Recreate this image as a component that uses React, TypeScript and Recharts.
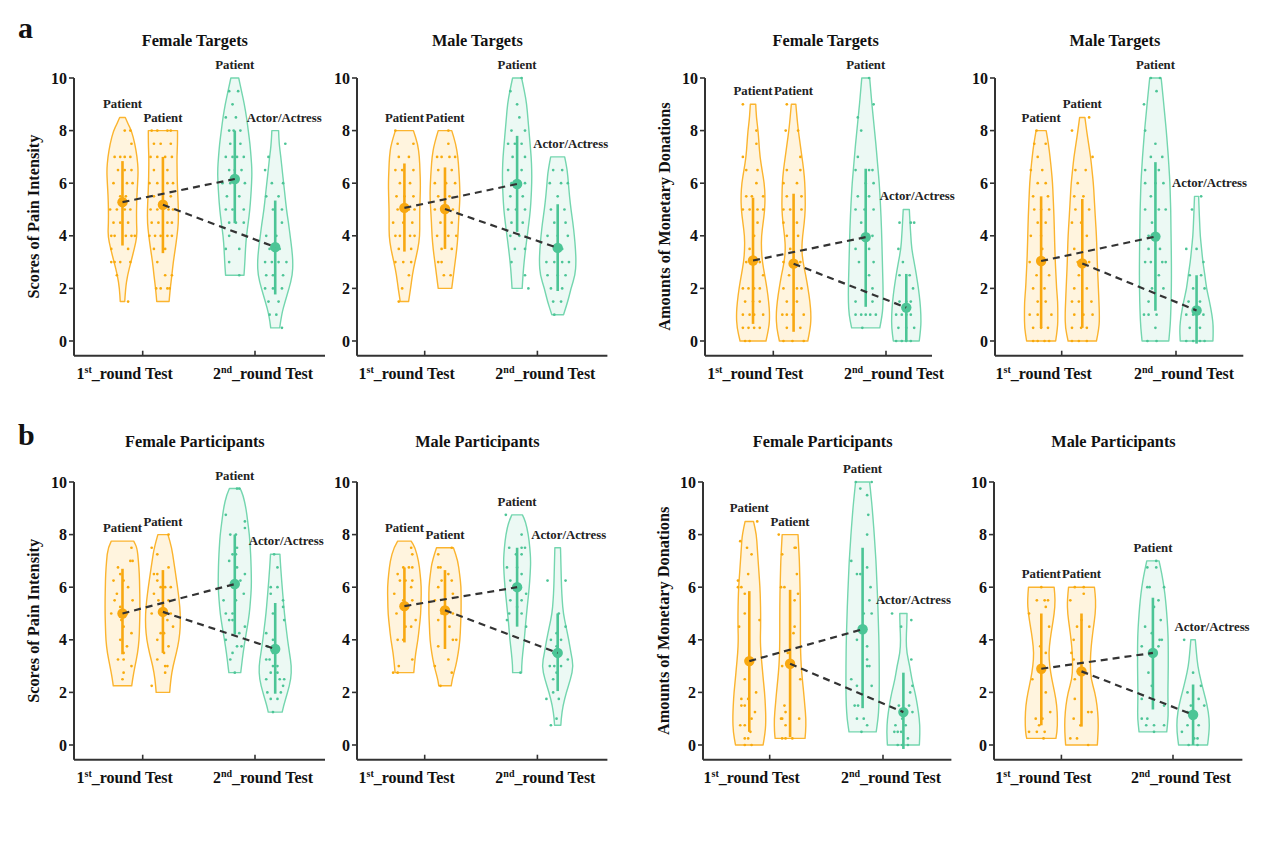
import React from "react";
import { ComposedChart, Scatter, XAxis, YAxis } from "recharts";

const FONT = '"Liberation Serif", "Times New Roman", serif';

// shared axes
const VALUE_TICKS = [0, 2, 4, 6, 8, 10];
const GROUP_TICKS = [1, 2];
const GROUP_LABELS = [
  ["1", "st", "_round Test"],
  ["2", "nd", "_round Test"],
];
const VIOLIN_X = [0.82, 1.18, 1.82, 2.18];
const VIOLIN_LABELS = ["Patient", "Patient", "Patient", "Actor/Actress"];
const Y_MIN = -0.56;
const Y_MAX = 10;

// violin outlines: "value:halfWidth" (half width in 1/100 of a group step), top to bottom
// dots: "value:offset,offset|..." (offsets in 1/100 of a group step)

// a - pain, female targets
const A1_SHAPES = [
  "8.5:2.5 8.25:5 8:8 7.5:11 7:13 6.5:14 6:13.5 5.5:12.8 5:12.5 4.5:12.5 4:13 3.5:10.5 3:7.5 2.5:4.5 2:2.7 1.5:2",
  "8:13 7.5:13 7:12.5 6.5:12.6 6:12.8 5.5:13.3 5:13.8 4.5:13.8 4:12.6 3.5:11 3:9.2 2.5:8 2:6.5 1.5:5.5",
  "10:3.5 9.5:6 9:8.5 8.5:10.5 8:12 7.5:13.5 7:14.5 6.5:15.3 6:15 5.5:14.3 5:13.4 4.5:12 4:10.4 3.5:9.5 3:9 2.5:8.2",
  "8:3 7.5:3.5 7:5 6.5:6.2 6:7.5 5.5:8.8 5:10 4.5:11.8 4:13.3 3.5:14.8 3:15.8 2.5:15.3 2:12.3 1.5:8.8 1:5.6 0.5:4",
];
const A1_MEANS = [5.28, 5.18, 6.16, 3.57];
const A1_BARS = [[3.63, 6.84], [3.34, 7.0], [4.48, 8.0], [1.77, 5.34]];
const A1_DOTS = [
  "8:2,7|7.5:8|7:-7,-2,2,7|6.5:-4,2,8|6:-8,4,9|5.5:-2,3|5:-11,-5,2,7|4.5:-8,-2,5|4:-10,-7,3,8,11|3.5:-10,5|3:-10,-7,-2,7|2.5:-5|1.5:5",
  "8:-10,-5,4,7|7.5:-8,-2,7|7:-11,-5,2,8|6.5:-8,4|6:-12,-5,4,9|5.5:-8,7|5:-11,-5,5,9|4.5:-10,-4,4,8|4:-12,-7,-2,4,8|3.5:-8,2|3:-5|2.5:2,8|2:-6,-2,4,6",
  "9.5:-5,3|9:-2|8.5:-8,1|8:-5,-1,5|7.5:-4,5|7:-8,-2,2,8|6.5:-5,0,6|6:-11,-4,9|5.5:-7,4|5:-8,-2,8|4.5:-5,1,8|4:-5|3.5:-8,4|3:-5|2.5:4",
  "7.5:9|7:-6|6.5:-9|6:-3,7|5.5:-8,3|5:-2,6|4.5:6|4:-8,1|3.5:-5,4|3:-9,-3,3,10|2.5:-8,-2,7|2:-9,-2,6|1.5:-6,3|1:-5,1|0.5:6",
];

// a - pain, male targets
const A2_SHAPES = [
  "8:8 7.5:11.8 7:13.3 6.5:13.8 6:14.2 5.5:14 5:13.6 4.5:13.6 4:13.6 3.5:12 3:9.3 2.5:7 2:5.5 1.5:3.7",
  "8:6 7.5:9.5 7:11.5 6.5:12.3 6:13 5.5:13.3 5:12.7 4.5:12 4:11.5 3.5:10.5 3:9 2.5:7.5 2:6",
  "10:4 9.5:6.5 9:8.5 8.5:9.5 8:10.5 7.5:11.5 7:12.5 6.5:13 6:13 5.5:12.5 5:11.8 4.5:10.5 4:9 3.5:7.5 3:6.2 2.5:5.2 2:4.5",
  "7:6.2 6.5:8.5 6:9.5 5.5:10.5 5:11.8 4.5:13.5 4:14.8 3.5:15.8 3:16.3 2.5:15.5 2:11.8 1.5:9 1:5.2",
];
const A2_MEANS = [5.06, 5.02, 5.97, 3.54];
const A2_BARS = [[3.4, 6.75], [3.5, 6.6], [4.15, 7.8], [1.9, 5.2]];
const A2_DOTS = [
  "8:-8|7.5:-6,8|7:-5,4|6.5:-8,-2,8|6:-4,5|5.5:-7,0,8|5:-6,4,9|4.5:-10,-1,7|4:-8,-4,5,9|3.5:-5,6|3:-8,-1,6|2.5:4|2:-2|1.5:-5",
  "8:3|7.5:3|7:-7,-3,4,9|6.5:-6,6|6:-9,1,9|5.5:-6,4|5:-9,-3,7|4.5:-4,6|4:-7,3,10|3.5:-3,6|3:-6,-3|2.5:-1,5",
  "10:4|9.5:-6|9:0|8.5:2|8:-5,7|7.5:-8,-2,4|7:-4,7|6.5:-8,4|6:-5,7|5.5:-6,5|5:-8,-1,7|4.5:-5,5|4:-6,2|3.5:-2,7|3:-5|2.5:7|2:10",
  "6.5:-4,4|6:-7,3,9|5.5:0|5:-6,6|4.5:-3,7|4:-9,0,9|3.5:4|3:-10,-3,4,10|2.5:-9,0,7|2:-6,4|1.5:-4,3|1:-3",
];

// a - donations, female targets
const A3_SHAPES = [
  "9:2.4 8.5:3 8:4.5 7.5:5.3 7:6.2 6.5:8 6:10 5.5:10.7 5:10.4 4.5:9 4:7.5 3.5:7.4 3:8.3 2.5:10.4 2:12.4 1.5:13.9 1:14.8 0.5:14.2 0:11.5",
  "9:2 8.5:3 8:4.2 7.5:5.8 7:7.4 6.5:9 6:10 5.5:10.3 5:10.4 4.5:9.5 4:8 3.5:7.2 3:8.3 2.5:10.8 2:12.8 1.5:14.5 1:15.5 0.5:15 0:12.6",
  "10:3.5 9.5:4.5 9:5.5 8.5:6.7 8:7.8 7.5:9 7:10 6.5:11 6:12 5.5:12.7 5:13.3 4.5:13.8 4:14.2 3.5:14.5 3:14.8 2.5:15.1 2:15.4 1.5:15.4 1:14.8 0.5:12.5",
  "5:2.7 4.5:3.3 4:4 3.5:4.8 3:7 2.5:9 2:10.8 1.5:12.2 1:13 0.5:13 0:11.5",
];
const A3_MEANS = [3.06, 2.94, 3.95, 1.27];
const A3_BARS = [[0.65, 5.45], [0.35, 5.6], [1.3, 6.55], [0, 2.55]];
const A3_DOTS = [
  "9:-9|8:3|7.5:3|7:-9|6.5:-6,4|6:3|5.5:-6,-1,9|5:-9,-3,4,9|4.5:4|4:1|3.5:-3|3:-6,6|2.5:9|2:-9,-4,1,6|1.5:-7,0,6|1:-9,-3,1,9|0.5:-9,-4,1,6|0:-7,-3",
  "9:-6|8:-7,4|7:6|6.5:-6,6|6:-9,3|5.5:-6,7|5:-9,-3,7|4.5:-9,3|4:-6,4|3.5:-3|3:-9,6|2.5:-4|2:-9,3,7|1.5:-6,3|1:-10,-6,-1,9|0.5:-6,6|0:-9,-1,9",
  "10:3|9:7|8.5:-7|8:-4|7:-7|6.5:-9,3,6|6:0,7|5.5:-7,3|5:-9,-1,7|4.5:-4|4:6|3.5:-9,3|3:-6,7|2.5:3|2:6|1.5:-9,6|1:-9,-4,0,4,9|0.5:-3",
  "4.5:-6,4,7|3.5:-7|3:-3|2.5:-6,3|2:6|1.5:-6,0,4|1:-9,-4,0,4|0.5:-7,0,7|0:-9,-4,0,4",
];

// a - donations, male targets
const A4_SHAPES = [
  "8:4.4 7.5:6.4 7:7.8 6.5:9 6:10 5.5:10.5 5:11 4.5:11.4 4:11.7 3.5:12 3:12.4 2.5:13 2:13.5 1.5:14.5 1:14.6 0.5:14.5 0:12.7",
  "8.5:2.3 8:3.8 7.5:5.5 7:7.3 6.5:8.5 6:9.7 5.5:10.4 5:11 4.5:11.7 4:12.4 3.5:12.8 3:13.1 2.5:13.6 2:14.1 1.5:14.6 1:15 0.5:14.8 0:12.4",
  "10:5 9.5:6.2 9:7.3 8.5:8.4 8:9.5 7.5:10.4 7:11.3 6.5:12 6:12.7 5.5:13 5:13.4 4.5:13.5 4:13.7 3:14 2:14 1:13.4 0.5:12.8 0:11.7",
  "5.5:1.8 5:2.2 4.5:2.7 4:3.2 3.5:4.4 3:5.5 2.5:7.3 2:8.7 1.5:11.3 1:13.5 0.5:14.8 0:14.3",
];
const A4_MEANS = [3.04, 2.95, 3.97, 1.16];
const A4_BARS = [[0.5, 5.5], [0.5, 5.4], [1.15, 6.8], [-0.1, 2.5]];
const A4_DOTS = [
  "8:-4|7.5:-6,4|7:-3|6.5:-9,1|6:-3,4|5.5:-7,6|5:-6,0,7|4.5:-3,4|4:-9,0|3.5:1|3:-10,3|2.5:-4,7|2:-7,3|1.5:-3,4|1:-10,-3,9|0.5:-7,0,6|0:-7,-3,3,7",
  "8.5:6|8:-9|7:9|6.5:-6,3|6:-4|5.5:-7,1|5:-6,6|4.5:-9,-1|4:4|3.5:-7|3:-4,6|2.5:-3|2:-7,4|1.5:-9,-3,8|1:-7,1,9|0.5:-9,-1,4|0:-9,-3,4",
  "10:-4,4|9.5:1|9:-10|8:-9|7.5:0|7:-4,6|6.5:-9,3|6:-9,0,7|5.5:-4|5:-9,3,9|4.5:-3|4:-6|3.5:-6,4|3:-9,-4,6,9|2.5:3|2:-3,7|1.5:-6|1:-10,-6,1|0.5:0|0:-7,1",
  "5.5:4|5:-4|3.5:-9,0|3:6|2.5:-6,4|2:-3,7|1.5:-7,3|1:-9,-3,6|0.5:-6,3|0:-9,-3,3,7",
];

// b - pain, female participants
const B1_SHAPES = [
  "7.75:10 7.5:13 7:14.2 6.5:15 6:15.3 5.5:15.5 5:15.5 4.5:15.2 4:14.8 3.5:13.5 3:11.1 2.5:9 2.25:8.2",
  "8:4.5 7.5:7.8 7:9.6 6.5:11.3 6:13 5.5:14.5 5:15.5 4.5:15.5 4:14.4 3.5:12 3:9 2.5:7 2:6",
  "9.75:4.8 9.5:7.4 9:10 8.5:11.5 8:13 7.5:13.8 7:14.4 6.5:14.7 6:14.8 5.5:14 5:13 4.5:11.2 4:9.2 3.5:7.4 3:6 2.75:5.3",
  "7.25:4.2 7:4.5 6.5:5.3 6:6.2 5.5:7.2 5:8.2 4.5:9.6 4:11 3.5:12.7 3:14.5 2.5:14 2:11 1.5:7.5 1.25:6.2",
];
const B1_MEANS = [5.0, 5.06, 6.12, 3.65];
const B1_BARS = [[3.45, 6.7], [3.5, 6.65], [4.2, 8.0], [1.95, 5.4]];
const B1_DOTS = [
  "7.5:8|7:7,9|6.75:-4|6.5:-2|6.25:-8,1|6:5|5.75:-5|5.5:-7,9|5.25:-2|5:-10,4|4.75:-1|4.5:1|4.25:8|4:-2|3.75:4|3.5:1|3.25:-4,1|3:8|2.75:1|2.5:0",
  "8:5|7.5:-10|7.25:-5|6.75:5|6.5:-8,-5|6.25:-5|6:-2,2,7|5.75:-8|5.5:-4,5|5:-10,7|4.75:4|4.5:9|4.25:-2,1|4:-5|3.75:5|3.5:1|3.25:-5|3:2,4|2.75:2|2.25:-10",
  "9.75:2,4|8.75:-8|8.5:9|8.25:9|8:-4,1|7.5:2|7.25:-2,1|7:-5|6.75:2|6.5:9|6.25:5|6:-2|5.75:8|5.5:-10,1|5:-8,-2|4.75:-5,-2|4.5:9|4.25:4|4:-8|3.75:2,6|3.5:-2|3.25:-4|2.75:0",
  "7.25:-1|6.75:2|6:-4,2|5.75:-4|5.5:7|5.25:7|5:-2|4.75:8|4.25:-8|4:-2|3.75:-7,1|3.5:-2|3.25:-8,-5|3:-2,2|2.75:-4,2|2.5:-8,4,8|2.25:7|2:-7,5|1.75:-4,2|1.25:-2",
];

// b - pain, male participants
const B2_SHAPES = [
  "7.75:6 7.5:9.5 7:12.6 6.5:14 6:15 5.5:14.8 5:14.5 4.5:13.3 4:12 3.5:10 3:8.8 2.75:8.3",
  "7.5:7.5 7:11.4 6.5:13 6:14.3 5.5:14.3 5:14.3 4.5:13.8 4:13.3 3.5:11.8 3:9.6 2.5:6.4 2.25:5.5",
  "8.75:4.7 8.5:7.4 8:10 7.5:11.3 7:12.1 6.5:11.6 6:10.8 5.5:9.6 5:8.4 4.5:7.3 4:6.4 3.5:5 3:4 2.75:4",
  "7.5:2.5 7:2.8 6.5:3.1 6:3.4 5.5:4 5:5 4.5:7.4 4:9.8 3.5:11.8 3:14 2.5:11.4 2:7.7 1.5:4.7 1:3.1 0.75:2.8",
];
const B2_MEANS = [5.28, 5.12, 6.0, 3.5];
const B2_BARS = [[3.9, 6.75], [3.65, 6.65], [4.5, 7.5], [2.05, 5.0]];
const B2_DOTS = [
  "7.5:6|7.25:7|6.75:-1,4,7|6.5:-6|6.25:-4,1,7|6:6|5.75:-9|5.5:-1,7|5:-7|4.75:10|4.5:1,6|4:-6,-1|3.25:7|3:-5|2.75:-10,-6",
  "7.5:6|7.25:-6|6.75:-6,-4|6.5:3|6.25:-3,6|6:-6|5.75:7|5.5:-9|5:-3,7|4.75:-6|4.5:4|4:7,10|3.75:-6|3.25:3|3:-9|2.75:6|2.25:-4",
  "8.75:-10|8:4|7.5:-7,4,7|7.25:-1,4|6.75:-9,0|6.5:4|6.25:-6|6:1|5.75:8|5.5:-6,4|5.25:0|5:-7,4|4.75:-9|4.5:8|2.75:3",
  "6.25:-9,7|5:1|4.5:7|4.25:-1|4:-6,3|3.75:-1|3.5:-4|3.25:9|3:-7,-3,3|2.75:-1|2.5:-4|2:-4|1.75:-10,1|1:-1|0.75:-6",
];

// b - donations, female participants
const B3_SHAPES = [
  "8.5:3.7 8:6.3 7.5:7 7:7.8 6.5:8.6 6:9.4 5.5:9.8 5:10 4.5:10 4:9.7 3.5:10.2 3:11.3 2.5:12.3 2:13.5 1.5:14.2 1:14.6 0.5:14.2 0:12.2",
  "8:7 7.5:7.6 7:8.2 6.5:8.5 6:8.8 5.5:9 5:9.1 4.5:9.1 4:9.1 3.5:9.3 3:9.8 2.5:10.8 2:12 1.5:13 1:14 0.5:13.8 0.25:13.2",
  "10:6.2 9.5:7.4 9:8.5 8.5:9.4 8:10.3 7.5:11 7:11.8 6.5:12.3 6:12.8 5.5:13.3 5:13.7 4.5:14 4:14.4 3:14.7 2:14.7 1.5:14.4 1:13.7 0.5:12",
  "5:3.2 4.5:3 4:2.4 3.5:3 3:5.6 2.5:7.4 2:10.3 1.5:12.4 1:14.1 0.5:14.7 0:14.1",
];
const B3_MEANS = [3.19, 3.09, 4.4, 1.25];
const B3_BARS = [[0.5, 5.85], [0.3, 5.9], [1.4, 7.5], [-0.15, 2.75]];
const B3_DOTS = [
  "8.5:7|7.75:-8|7.5:-2|7.25:2|6.5:-1|6.25:-10|6:-10,-7|5.75:-4|5:-4|4.75:9|4.5:-9|3.25:2|2.5:-4|2:6|1.75:-7,-1|1.5:-7,-4|1.25:5|1:2|0.75:-8,-4|0.5:1|0.25:-4,-1|0:-4,2",
  "8:-10|7.5:4,5|7.25:-7|6.5:6|6:-8,-5|5.75:7|5.5:4|4.5:4|4.25:3|3.5:-2|3:-7|2.5:9|1.5:-5|1.25:-4|1:-8,-7,8|0.75:-4|0.25:-7,-4,2",
  "10:-6,8|9.75:-2|9.5:4|8.75:5|8:4|7:-10|6.75:4|6.5:-5,-2|6:7|5.5:6|5:1,8|4:-5|3.75:4|3.25:4|3:4,6|2.5:-10|2.25:-5,8|1.5:-7,-4|1:-5,1|0.75:4|0.5:-1",
  "5:-10|4.75:7|4.5:-2|3.25:7|2.25:8|2:6|1.5:-4,5|1.25:8|1:-1|0.75:-7,2|0.5:-8,-5,-2|0.25:4|0:-5,-1,4",
];

// b - donations, male participants
const B4_SHAPES = [
  "6:11.5 5.5:12.5 5:11.6 4.5:9.7 4:7.9 3.5:6.7 3:7.5 2.5:9.4 2:12 1.5:13.9 1:14.5 0.5:14.2 0.25:13.1",
  "6:11.6 5.5:12.8 5:12.4 4.5:10.8 4:9.3 3.5:8.2 3:7.9 2.5:8.6 2:12 1.5:14 1:15 0.5:15 0:14.2",
  "7:5.5 6.5:8 6:10 5.5:11.4 5:12.4 4.5:13.2 4:13.7 3:13.8 2:13.4 1.5:13.6 1:13.7 0.5:12.4",
  "4:2 3.5:3 3:4.2 2.5:6.7 2:9.7 1.5:12.7 1:14.5 0.5:14.5 0:13",
];
const B4_MEANS = [2.9, 2.8, 3.5, 1.15];
const B4_BARS = [[0.75, 5.0], [0.7, 5.0], [1.35, 5.6], [0, 2.3]];
const B4_DOTS = [
  "6:0|5.5:-4,3,6|5.25:4|5:-11|4.5:7|3.75:-1|3.5:4|2.5:-8|2:4|1.25:8|1:-5,1|0.75:-2|0.5:-11,-4,3|0.25:2",
  "6:-6,2|5.75:2|5.5:-10|4.75:0|4.5:-4,7|4:-7|3.5:-9|3.25:-7|2.5:-6|1.75:-6|1.25:6,9|1:-7|0.75:-1|0.25:-10,-4|0:6",
  "7:3|6.75:-5,3|6:-5,-3,10|5.5:5|5.25:1|4.75:7|4.5:-7|4.25:-1|4:6,8|3.75:-10,5|2.75:-4|2.25:-1|1.75:-10|1.5:10|1:-10,-5|0.75:-6,1,10|0.5:1",
  "4:-8|2.75:0|2.25:7|2:-5|1.75:5|1.5:-2,10|1.25:-5|1:-1|0.75:-5,5|0.5:-10|0.25:1,4|0:-4,4",
];

const PAIN = "Scores of Pain Intensity";
const MONEY = "Amounts of Monetary Donations";

// layout (page pixels): plot left, group ticks, plot right, y of value 10
const PANELS = [
  { title: "Female Targets", yTitle: PAIN, shapes: A1_SHAPES, means: A1_MEANS, bars: A1_BARS, dots: A1_DOTS, actorDx: 9, box: { left: 74, t1: 142.7, t2: 255, right: 325, top: 77.7, titleY: 46 } },
  { title: "Male Targets", yTitle: "", shapes: A2_SHAPES, means: A2_MEANS, bars: A2_BARS, dots: A2_DOTS, actorDx: 13, box: { left: 357.3, t1: 425, t2: 537.7, right: 607.7, top: 77.7, titleY: 46 } },
  { title: "Female Targets", yTitle: MONEY, shapes: A3_SHAPES, means: A3_MEANS, bars: A3_BARS, dots: A3_DOTS, actorDx: 11, box: { left: 705, t1: 773.3, t2: 886, right: 932, top: 77.7, titleY: 46 } },
  { title: "Male Targets", yTitle: "", shapes: A4_SHAPES, means: A4_MEANS, bars: A4_BARS, dots: A4_DOTS, actorDx: 13, box: { left: 995, t1: 1061.7, t2: 1176, right: 1243.3, top: 77.7, titleY: 46 } },
  { title: "Female Participants", yTitle: PAIN, shapes: B1_SHAPES, means: B1_MEANS, bars: B1_BARS, dots: B1_DOTS, actorDx: 11, box: { left: 74, t1: 142.7, t2: 255, right: 325, top: 482, titleY: 447 } },
  { title: "Male Participants", yTitle: "", shapes: B2_SHAPES, means: B2_MEANS, bars: B2_BARS, dots: B2_DOTS, actorDx: 11, box: { left: 357.3, t1: 425, t2: 537.7, right: 607.7, top: 482, titleY: 447 } },
  { title: "Female Participants", yTitle: MONEY, shapes: B3_SHAPES, means: B3_MEANS, bars: B3_BARS, dots: B3_DOTS, actorDx: 10, box: { left: 703.3, t1: 770, t2: 883.3, right: 951.7, top: 482, titleY: 447 } },
  { title: "Male Participants", yTitle: "", shapes: B4_SHAPES, means: B4_MEANS, bars: B4_BARS, dots: B4_DOTS, actorDx: 19, box: { left: 994.3, t1: 1061.7, t2: 1173.3, right: 1242.7, top: 482, titleY: 447 } },
];

const ORANGE = { line: "#FBB42F", fill: "#FFF4DE", dot: "#F8AA0C", mean: "#F8A811" };
const GREEN = { line: "#74D6AF", fill: "#ECF9F4", dot: "#4DC597", mean: "#4CC596" };
const TONES = [ORANGE, ORANGE, GREEN, GREEN];
const AXIS = "#333";
const PX_PER_UNIT = 26.3;
const PLOT_H = (Y_MAX - Y_MIN) * PX_PER_UNIT;
const ML = 50;
const MR = 40;
const MT = 32;
const MB = 40;
const GROUP_LABEL_DX = [-18, 8];

function violinOutline(shape: string, cx: number) {
  const rows = shape
    .trim()
    .split(/\s+/)
    .map((t) => {
      const [y, w] = t.split(":").map(Number);
      return { y, w: w / 100 };
    });
  // right side bottom -> top, then left side top -> bottom
  const right = [...rows].reverse().map((r) => ({ x: cx + r.w, y: r.y }));
  const left = rows.map((r) => ({ x: cx - r.w, y: r.y }));
  return [...right, ...left];
}

function jitterDots(spec: string, cx: number) {
  return spec.split("|").flatMap((row) => {
    const [y, offs] = row.split(":");
    return offs.split(",").map((o) => ({ x: cx + Number(o) / 100, y: Number(y) }));
  });
}

function smoothSide(pts: { x: number; y: number }[]) {
  let d = "";
  for (let i = 1; i < pts.length - 1; i++) {
    const p = pts[i];
    const q = pts[i + 1];
    d += ` Q${p.x},${p.y} ${(p.x + q.x) / 2},${(p.y + q.y) / 2}`;
  }
  const last = pts[pts.length - 1];
  return d + ` L${last.x},${last.y}`;
}

const makeViolin = (tone: typeof ORANGE, label: string, dx: number) => (props: any) => {
  const pts = props.points as { x: number; y: number }[];
  const n = pts.length / 2;
  const right = pts.slice(0, n);
  const left = pts.slice(n);
  const d =
    `M${right[0].x},${right[0].y}` + smoothSide(right) + ` L${left[0].x},${left[0].y}` + smoothSide(left) + " Z";
  const topY = right[n - 1].y;
  const cx = (right[n - 1].x + left[0].x) / 2;
  return (
    <g>
      <path d={d} fill={tone.fill} stroke={tone.line} strokeWidth={1.4} strokeLinejoin="round" />
      <text
        x={cx + dx}
        y={topY - 13}
        textAnchor="middle"
        dominantBaseline="central"
        fontFamily={FONT}
        fontWeight="bold"
        fontSize={12.8}
        fill="#222"
      >
        {label}
      </text>
    </g>
  );
};

const NoShape = () => <g />;
const dotShape = (color: string, r: number) => (p: any) => <circle cx={p.cx} cy={p.cy} r={r} fill={color} />;

const GroupTick = (props: any) => {
  const { x, y, payload } = props;
  const i = GROUP_TICKS.indexOf(payload.value);
  const [n, sup, rest] = GROUP_LABELS[i];
  return (
    <g>
      <line x1={x} x2={x} y1={y - 5} y2={y} stroke={AXIS} strokeWidth={1.6} />
      <text x={x + GROUP_LABEL_DX[i]} y={y + 23} textAnchor="middle" fontFamily={FONT} fontWeight="bold" fontSize={16} fill="#111">
        {n}
        <tspan dy={-6} fontSize={10}>
          {sup}
        </tspan>
        <tspan dy={6}>{rest}</tspan>
      </text>
    </g>
  );
};

function Panel({ p }: { p: (typeof PANELS)[number] }) {
  const { left, t1, t2, right, top } = p.box;
  const step = t2 - t1;
  const d0 = 1 - (t1 - left) / step;
  const d1 = 2 + (right - t2) / step;
  const width = right - left + ML + MR;
  const height = PLOT_H + MT + MB;

  return (
    <div style={{ position: "absolute", left: left - ML, top: top - MT }}>
      <ComposedChart width={width} height={height} margin={{ top: MT, right: MR, bottom: 0, left: 0 }}>
        <XAxis
          type="number"
          dataKey="x"
          domain={[d0, d1]}
          ticks={GROUP_TICKS}
          interval={0}
          height={MB}
          tickSize={0}
          tickMargin={0}
          tickLine={false}
          axisLine={{ stroke: AXIS, strokeWidth: 2 }}
          tick={(t: any) => <GroupTick {...t} />}
        />
        <YAxis
          type="number"
          dataKey="y"
          domain={[Y_MIN, Y_MAX]}
          ticks={VALUE_TICKS}
          interval={0}
          width={ML}
          tickSize={5}
          tickMargin={2}
          stroke={AXIS}
          axisLine={{ stroke: AXIS, strokeWidth: 2 }}
          tickLine={{ stroke: AXIS, strokeWidth: 1.6 }}
          tick={{ fill: "#111", fontSize: 16, fontWeight: "bold", fontFamily: FONT }}
        />
        {p.shapes.map((s, i) => (
          <Scatter
            key={`v${i}`}
            data={violinOutline(s, VIOLIN_X[i])}
            shape={NoShape}
            line={makeViolin(TONES[i], VIOLIN_LABELS[i], i === 3 ? p.actorDx : 0)}
            legendType="none"
            isAnimationActive={false}
          />
        ))}
        {p.dots.map((s, i) => (
          <Scatter
            key={`d${i}`}
            data={jitterDots(s, VIOLIN_X[i])}
            shape={dotShape(TONES[i].dot, 1.35)}
            legendType="none"
            isAnimationActive={false}
          />
        ))}
        {p.bars.map((b, i) => (
          <Scatter
            key={`e${i}`}
            data={[{ x: VIOLIN_X[i], y: b[0] }, { x: VIOLIN_X[i], y: b[1] }]}
            shape={NoShape}
            line={{ stroke: TONES[i].mean, strokeWidth: 2.6 }}
            legendType="none"
            isAnimationActive={false}
          />
        ))}
        {p.means.map((m, i) => (
          <Scatter
            key={`m${i}`}
            data={[{ x: VIOLIN_X[i], y: m }]}
            shape={dotShape(TONES[i].mean, 5.2)}
            legendType="none"
            isAnimationActive={false}
          />
        ))}
        {[[0, 2], [1, 3]].map(([a, b]) => (
          <Scatter
            key={`l${a}`}
            data={[{ x: VIOLIN_X[a], y: p.means[a] }, { x: VIOLIN_X[b], y: p.means[b] }]}
            shape={NoShape}
            line={{ stroke: "#333", strokeWidth: 2.2, strokeDasharray: "7 5" }}
            legendType="none"
            isAnimationActive={false}
          />
        ))}
      </ComposedChart>
    </div>
  );
}

export default function App() {
  return (
    <div style={{ position: "relative", width: 1261, height: 861, background: "#fff", fontFamily: FONT }}>
      <style>{"body{margin:0}"}</style>
      {PANELS.map((p, i) => (
        <Panel key={i} p={p} />
      ))}
      <svg width={1261} height={861} style={{ position: "absolute", left: 0, top: 0, pointerEvents: "none" }}>
        <text x={18} y={38} fontFamily={FONT} fontWeight="bold" fontSize={30} fill="#111">
          a
        </text>
        <text x={18} y={445} fontFamily={FONT} fontWeight="bold" fontSize={30} fill="#111">
          b
        </text>
        {PANELS.map((p, i) => {
          const { left, t1, t2, top, titleY } = p.box;
          const cy = top + PLOT_H / 2;
          return (
            <g key={i}>
              <text x={(t1 + t2) / 2 - 4} y={titleY} textAnchor="middle" fontFamily={FONT} fontWeight="bold" fontSize={16.3} fill="#111">
                {p.title}
              </text>
              {p.yTitle && (
                <text
                  x={left - 40}
                  y={cy}
                  transform={`rotate(-90 ${left - 40} ${cy})`}
                  textAnchor="middle"
                  dominantBaseline="central"
                  fontFamily={FONT}
                  fontWeight="bold"
                  fontSize={16.3}
                  fill="#111"
                >
                  {p.yTitle}
                </text>
              )}
            </g>
          );
        })}
      </svg>
    </div>
  );
}
